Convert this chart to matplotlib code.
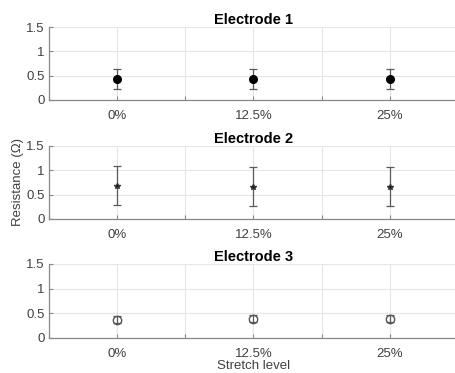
import matplotlib
matplotlib.use("Agg")
import matplotlib.pyplot as plt

plt.rcParams['font.family'] = ['Liberation Sans', 'DejaVu Sans']

# data
stretch_labels = ['0%', '12.5%', '25%']
e1_mean = [0.43, 0.44, 0.43]
e1_err = [0.20, 0.205, 0.20]
e2_mean = [0.68, 0.66, 0.66]
e2_err = [0.40, 0.40, 0.40]
e3_mean = [0.37, 0.39, 0.39]
e3_err = [0.07, 0.07, 0.07]

titles = ['Electrode 1', 'Electrode 2', 'Electrode 3']
means = [e1_mean, e2_mean, e3_mean]
errs = [e1_err, e2_err, e3_err]
styles = [
    dict(fmt='o', color='black', ms=5.5, mfc='black', mec='black'),
    dict(fmt='*', color='black', ms=4, mfc='black', mec='#333333'),
    dict(fmt='o', color='#555555', ms=6, mfc='none', mec='#555555'),
]

fig = plt.figure(figsize=(4.56, 3.73), dpi=100)
W, H = 456, 373
# pixel boxes (top, bottom) of each panel
boxes = [(27, 100), (146, 219), (264, 338)]
left, right = 49, 458
gray = '#404040'
x = [1, 2, 3]

for (top, bot), title, m, e, st in zip(boxes, titles, means, errs, styles):
    ax = fig.add_axes([left / W, 1 - bot / H, (right - left) / W, (bot - top) / H])
    ax.errorbar(x, m, yerr=e, capsize=2.8, elinewidth=0.9, capthick=0.9,
                ecolor='#5a5a5a', zorder=3, **st)
    ax.set_xlim(0.5, 3.5)
    ax.set_ylim(0, 1.5)
    ax.set_yticks([0, 0.5, 1, 1.5])
    ax.set_yticklabels(['0', '0.5', '1', '1.5'])
    ax.set_xticks([0.5, 1, 1.5, 2, 2.5, 3, 3.5])
    ax.set_xticklabels(['', stretch_labels[0], '', stretch_labels[1], '',
                        stretch_labels[2], ''])
    ax.grid(True, color='#e6e6e6', linewidth=0.8)
    ax.set_axisbelow(True)
    for side in ['top', 'right']:
        ax.spines[side].set_visible(False)
    for side in ['left', 'bottom']:
        ax.spines[side].set_color('#888888')
        ax.spines[side].set_linewidth(0.9)
    ax.tick_params(direction='in', length=3, colors='#888888',
                   labelcolor=gray, labelsize=9.5, pad=3)
    ax.tick_params(axis='x', pad=7)
    ax.set_title(title, fontsize=10.5, fontweight='bold', pad=1)
    if title == 'Electrode 2':
        ax.set_ylabel('Resistance (\u03a9)', fontsize=9.5, color=gray, labelpad=2)
    if title == 'Electrode 3':
        ax.set_xlabel('Stretch level', fontsize=9.5, color=gray, labelpad=0)

fig.savefig('out.png', dpi=100)
